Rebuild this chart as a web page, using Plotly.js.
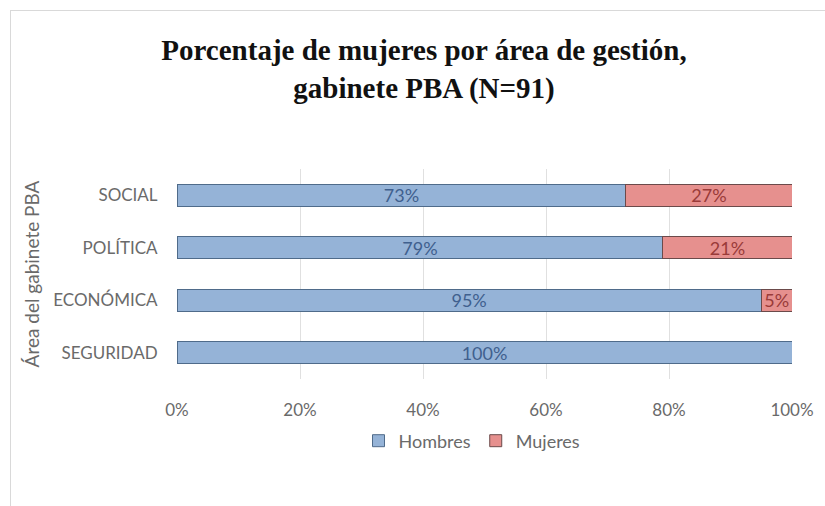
<!DOCTYPE html>
<html>
<head>
<meta charset="utf-8">
<script src="https://cdn.plot.ly/plotly-3.0.1.min.js"></script>
<style>
html,body{margin:0;padding:0;background:#fff;}
#wrap{position:relative;width:825px;height:506px;overflow:hidden;}
#frame{position:absolute;left:10px;top:10px;width:830px;height:510px;border-left:1px solid #d9d9d9;border-top:1px solid #d9d9d9;pointer-events:none;z-index:5;}
#chart{position:absolute;left:0;top:0;width:825px;height:506px;}
</style>
</head>
<body>
<div id="wrap"><div id="chart"></div><div id="frame"></div></div>
<script>
const categories = ["SEGURIDAD", "ECONÓMICA", "POLÍTICA", "SOCIAL"];
const hombres = [100, 95, 79, 73];
const mujeres = [0, 5, 21, 27];
const xTickVals = [0, 20, 40, 60, 80, 100];
const xTickText = ["0%", "20%", "40%", "60%", "80%", "100%"];

const lbl = v => v.map(x => x > 0 ? x + "%" : "");
const fam = "Lato, 'Liberation Sans', sans-serif";

const traces = [
  {
    type: "bar", orientation: "h", name: "Hombres",
    y: categories, x: hombres, text: lbl(hombres),
    textposition: "inside", insidetextanchor: "middle", textangle: 0,
    constraintext: "none",
    textfont: {family: fam, size: 18, color: "#40608e"},
    marker: {color: "#95b3d7", line: {color: "#4f6b8a", width: 1}},
    hoverinfo: "skip"
  },
  {
    type: "bar", orientation: "h", name: "Mujeres",
    y: categories, x: mujeres, text: lbl(mujeres),
    textposition: "inside", insidetextanchor: "middle", textangle: 0,
    constraintext: "none",
    textfont: {family: fam, size: 18, color: "#9a3b39"},
    marker: {color: "#e6908e", line: {color: "#6b4a4a", width: 1}},
    hoverinfo: "skip"
  }
];

const layout = {
  width: 825, height: 506,
  paper_bgcolor: "#fff", plot_bgcolor: "#fff",
  barmode: "stack", bargap: 0.58,
  margin: {l: 177, r: 33, t: 169, b: 127},
  showlegend: true,
  title: {
    text: "<b>Porcentaje de mujeres por área de gestión,<br>gabinete PBA (N=91)</b>",
    font: {family: "'Liberation Serif', 'Times New Roman', serif", size: 29, color: "#111"},
    x: 424/825, xref: "container", xanchor: "center",
    y: 1 - 60/506, yref: "container", yanchor: "middle"
  },
  xaxis: {
    range: [0, 100], tickvals: xTickVals, ticktext: xTickText,
    showgrid: true, gridcolor: "#e0e0e0", gridwidth: 1,
    zeroline: false, showline: false,
    ticks: "outside", ticklen: 16, tickcolor: "rgba(0,0,0,0)",
    tickfont: {family: fam, size: 17, color: "#6a6a6a"},
    fixedrange: true
  },
  yaxis: {
    categoryorder: "array", categoryarray: categories,
    range: [-0.5, 3.5],
    showgrid: false, zeroline: false, showline: false,
    ticks: "outside", ticklen: 15, tickcolor: "rgba(0,0,0,0)",
    tickfont: {family: fam, size: 17, color: "#6a6a6a"},
    title: {text: "Área del gabinete PBA", standoff: 8,
      font: {family: fam, size: 19, color: "#6a6a6a"}},
    automargin: false,
    fixedrange: true
  },
  legend: {
    orientation: "h", x: (472-177)/615, xanchor: "center",
    y: -(441-379)/210, yanchor: "middle",
    font: {family: fam, size: 18, color: "#6a6a6a"},
    itemwidth: 30, traceorder: "normal"
  }
};

Plotly.newPlot("chart", traces, layout, {displayModeBar: false, staticPlot: true});
</script>
</body>
</html>
